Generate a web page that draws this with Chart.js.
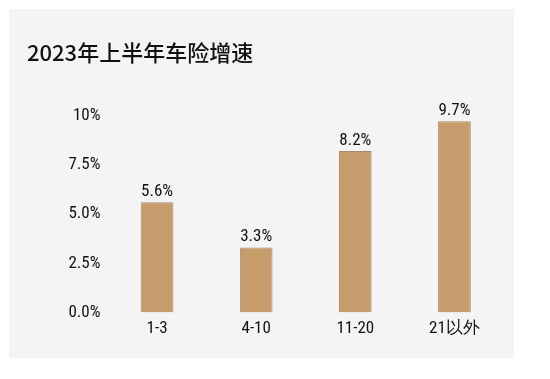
<!DOCTYPE html>
<html><head><meta charset="utf-8">
<script src="https://cdn.jsdelivr.net/npm/chart.js@4"></script>
<style>html,body{margin:0;padding:0;background:#fff;}#wrap{width:550px;height:379px;position:relative;}</style>
</head><body><div id="wrap"><canvas id="c" width="550" height="379"></canvas></div>
<script>
const categories = ['1-3', '4-10', '11-20', '21以外'];
const growth = [5.6, 3.3, 8.2, 9.7];
const yTicks = [0, 2.5, 5, 7.5, 10];
const titleText = '2023年上半年车险增速';

const numFont = "'Roboto Condensed', 'Liberation Sans Narrow', 'Roboto', sans-serif";
const fmt = v => (v === 10 ? '10%' : v.toFixed(1) + '%');

const panelPlugin = {
  id: 'panel',
  beforeDraw(chart) {
    const ctx = chart.ctx;
    ctx.save();
    ctx.fillStyle = '#f4f4f4';
    ctx.fillRect(9, 9, 505, 349);
    ctx.restore();
  }
};
const labelPlugin = {
  id: 'vlabels',
  afterDatasetsDraw(chart) {
    const ctx = chart.ctx;
    const meta = chart.getDatasetMeta(0);
    ctx.save();
    ctx.font = "17px " + numFont;
    ctx.fillStyle = '#111';
    ctx.textAlign = 'center';
    ctx.textBaseline = 'bottom';
    meta.data.forEach((bar, i) => {
      ctx.fillText(growth[i].toFixed(1) + '%', bar.x, bar.y - 2);
    });
    ctx.restore();
  }
};

new Chart(document.getElementById('c'), {
  type: 'bar',
  data: {
    labels: categories,
    datasets: [{
      data: growth,
      backgroundColor: '#c69c6d',
      borderColor: '#a98a68',
      borderWidth: 1,
      categoryPercentage: 1,
      barPercentage: 0.33
    }]
  },
  options: {
    responsive: false,
    animation: false,
    layout: { padding: { left: 27, right: 46, top: 39, bottom: 34 } },
    plugins: {
      legend: { display: false },
      tooltip: { enabled: false },
      title: {
        display: true,
        text: titleText,
        align: 'start',
        color: '#111',
        font: { family: "'Noto Sans CJK SC', sans-serif", size: 22, weight: '500' },
        padding: { top: 0, bottom: 50 }
      }
    },
    scales: {
      x: {
        grid: { display: false, drawTicks: false },
        border: { display: false },
        ticks: { color: '#111', font: { family: numFont, size: 17 }, padding: 6 }
      },
      y: {
        min: 0, max: 10,
        afterFit(s) { s.width = 80.5; },
        afterBuildTicks(s) { s.ticks = yTicks.map(v => ({ value: v })); },
        grid: { display: false, drawTicks: false },
        border: { display: false },
        ticks: { color: '#111', font: { family: numFont, size: 17 }, padding: 7, callback: v => fmt(v) }
      }
    }
  },
  plugins: [panelPlugin, labelPlugin]
});
</script></body></html>
